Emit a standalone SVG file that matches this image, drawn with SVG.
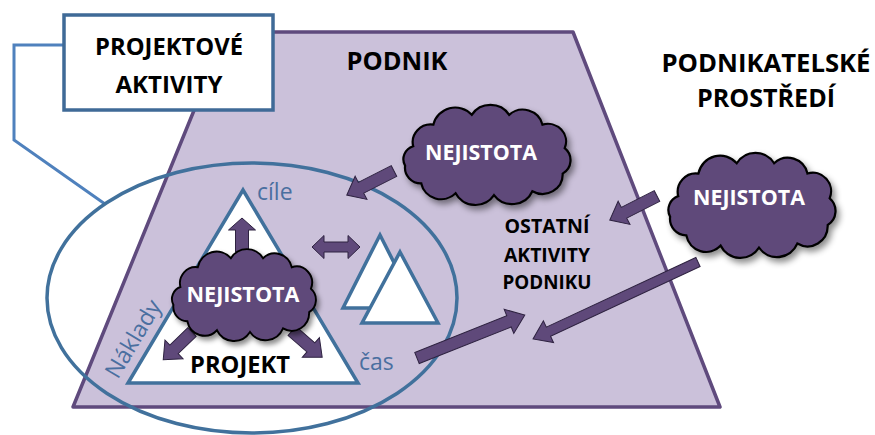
<svg xmlns="http://www.w3.org/2000/svg" width="875" height="435" viewBox="0 0 875 435">
<style>
.lbl{font-family:"Open Sans","Liberation Sans",sans-serif;font-weight:bold;fill:#000;text-anchor:middle}
.cl{font-family:"Open Sans","Liberation Sans",sans-serif;font-weight:bold;fill:#fff;text-anchor:middle;font-size:21px}
.bt{font-family:"Open Sans","Liberation Sans",sans-serif;fill:#4a6fa0;font-size:23px}
.arr{fill:#5f497a;stroke:#2e2240;stroke-width:1}
.tri{fill:#fff;stroke:#41719c;stroke-width:3.5;stroke-linejoin:miter}
.cloud{fill:#5f497a;stroke:#000;stroke-width:2.2}
</style>
<defs>
<filter id="sh" x="-20%" y="-20%" width="150%" height="160%">
<feDropShadow dx="3" dy="4" stdDeviation="3" flood-color="#000" flood-opacity="0.45"/>
</filter>
<path id="cloudp" d="M20,40 A18,18 0 0 1 40,18 A22,22 0 0 1 78,8 A22,22 0 0 1 115,8 A20,20 0 0 1 148,18 A18,18 0 0 1 170,42 A16,16 0 0 1 168,68 A20,20 0 0 1 138,86 A22,22 0 0 1 100,90 A22,22 0 0 1 62,88 A20,20 0 0 1 28,78 A16,16 0 0 1 12,60 A14,14 0 0 1 20,40 Z"/>
</defs>
<rect width="875" height="435" fill="#fff"/>

<g id="podnik">
<polygon points="226,32 573,32 720,407 73,407" fill="#cbc1da" stroke="#5f4a7d" stroke-width="3.5" stroke-linejoin="round"/>
<text class="lbl" x="397" y="70" font-size="25" textLength="101" lengthAdjust="spacingAndGlyphs">PODNIK</text>
</g>

<g id="connectors">
<polyline points="64,45 14,45 14,140 105,204" fill="none" stroke="#4f81bd" stroke-width="3"/>
</g>

<g id="projektove-aktivity">
<rect x="64" y="15" width="209" height="95" fill="#fff" stroke="#3f6a97" stroke-width="3.5"/>
<text class="lbl" x="169" y="55" font-size="24" textLength="148" lengthAdjust="spacingAndGlyphs">PROJEKTOVÉ</text>
<text class="lbl" x="169" y="93" font-size="24" textLength="107" lengthAdjust="spacingAndGlyphs">AKTIVITY</text>
</g>

<g id="prostredi">
<text class="lbl" x="766" y="72" font-size="25" textLength="209" lengthAdjust="spacingAndGlyphs">PODNIKATELSKÉ</text>
<text class="lbl" x="766" y="107" font-size="25" textLength="138" lengthAdjust="spacingAndGlyphs">PROSTŘEDÍ</text>
</g>

<g id="ellipse-projekt">
<ellipse cx="252" cy="298" rx="205" ry="135" fill="none" stroke="#41719c" stroke-width="3.5"/>
</g>

<g id="projekt">
<polygon class="tri" points="243,190 358,383 128,383"/>
<text class="lbl" x="240" y="373" font-size="23" textLength="100" lengthAdjust="spacingAndGlyphs">PROJEKT</text>
<text class="bt" x="257" y="200">cíle</text>
<text class="bt" x="359" y="370">čas</text>
<text class="bt" x="0" y="0" text-anchor="middle" transform="translate(140,343) rotate(-59)">Náklady</text>
</g>

<g id="ostatni-projekty">
<polygon class="tri" points="380,235 417,308 343,308"/>
<polygon class="tri" points="400,252 438,323 362,323"/>
</g>

<g id="ostatni-aktivity">
<text class="lbl" x="547" y="233" font-size="19" textLength="85" lengthAdjust="spacingAndGlyphs">OSTATNÍ</text>
<text class="lbl" x="547" y="262" font-size="19" textLength="86" lengthAdjust="spacingAndGlyphs">AKTIVITY</text>
<text class="lbl" x="547" y="289" font-size="19" textLength="89" lengthAdjust="spacingAndGlyphs">PODNIKU</text>
</g>

<g id="arrows">
<path class="arr" transform="translate(394,171) rotate(153)" d="M0,-6 H37 V-13 L53,0 L37,13 V6 H0 Z"/>
<path class="arr" transform="translate(242,252) rotate(-90)" d="M0,-6.5 H22 V-13.5 L34,0 L22,13.5 V6.5 H0 Z"/>
<path class="arr" d="M312,247 l12,-11.5 v6.5 h24 v-6.5 l12,11.5 l-12,11.5 v-6.5 h-24 v6.5 z"/>
<path class="arr" transform="translate(192,332) rotate(136)" d="M0,-6 H25 V-13 L40,0 L25,13 V6 H0 Z"/>
<path class="arr" transform="translate(292,331) rotate(41)" d="M0,-6 H25 V-13 L40,0 L25,13 V6 H0 Z"/>
<path class="arr" transform="translate(417,358) rotate(-21.7)" d="M0,-6 H99 V-13 L116,0 L99,13 V6 H0 Z"/>
<path class="arr" transform="translate(698,262) rotate(155)" d="M0,-5 H165 V-12 L182,0 L165,12 V5 H0 Z"/>
<path class="arr" transform="translate(657,196) rotate(153)" d="M0,-6 H37 V-13 L53,0 L37,13 V6 H0 Z"/>
</g>

<g id="nejistota-podnik">
<use href="#cloudp" class="cloud" filter="url(#sh)" transform="translate(393,107) scale(1.01,0.98)"/>
<text class="cl" x="481" y="160" textLength="112" lengthAdjust="spacingAndGlyphs">NEJISTOTA</text>
</g>

<g id="nejistota-prostredi">
<use href="#cloudp" class="cloud" filter="url(#sh)" transform="translate(658,155) scale(1.01,1.03)"/>
<text class="cl" x="749" y="205" textLength="112" lengthAdjust="spacingAndGlyphs">NEJISTOTA</text>
</g>

<g id="nejistota-projekt">
<use href="#cloudp" class="cloud" filter="url(#sh)" transform="translate(163,251) scale(0.87,0.9)"/>
<text class="cl" x="243" y="302" textLength="113" lengthAdjust="spacingAndGlyphs">NEJISTOTA</text>
</g>
</svg>
